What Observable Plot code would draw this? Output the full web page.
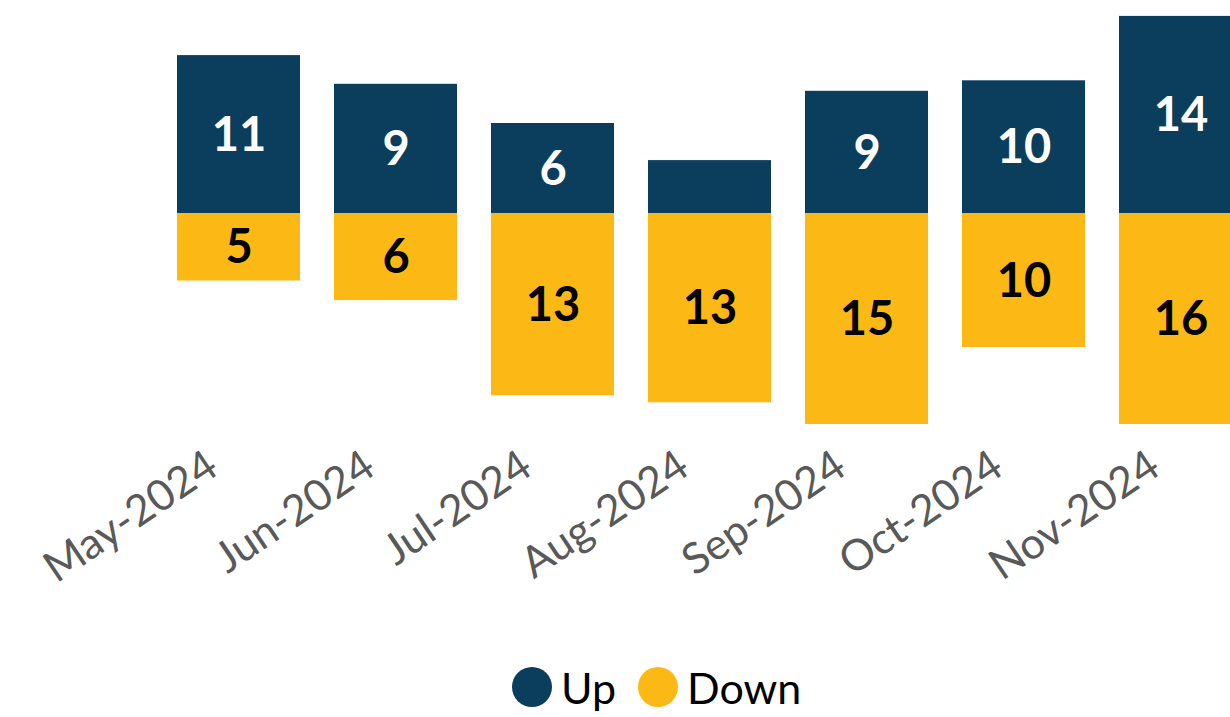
<!DOCTYPE html>
<html><head><meta charset="utf-8">
<script src="https://cdn.jsdelivr.net/npm/d3@7"></script>
<script src="https://cdn.jsdelivr.net/npm/@observablehq/plot@0.6"></script>
<style>
body{margin:0;background:#fff;overflow:hidden;font-family:Lato, sans-serif;}
#legend{height:60px;display:flex;align-items:center;padding-left:512px;font-size:43px;color:#000;}
.sw{width:40px;height:40px;border-radius:50%;display:inline-block;margin-right:9px;}
.item{display:flex;align-items:center;margin-right:22px;}
</style></head><body><div id="chart"></div><div id="legend"></div>
<script>
const months = ["May-2024","Jun-2024","Jul-2024","Aug-2024","Sep-2024","Oct-2024","Nov-2024"];
const upValues = [11.3, 9.25, 6.45, 3.8, 8.75, 9.5, 14.1];
const downValues = [4.8, 6.2, 13.0, 13.5, 15.05, 9.55, 15.05];
const upLabels = ["11","9","6","","9","10","14"];
const downLabels = ["5","6","13","13","15","10","16"];
const seriesNames = ["Up","Down"];
const seriesColors = ["#0b3d5c","#fcb915"];

const upRows = months.map((m,i)=>({month:m, series:"Up", value:upValues[i], label:upLabels[i]}));
const downRows = months.map((m,i)=>({month:m, series:"Down", value:-downValues[i], label:downLabels[i]}));
const rows = upRows.concat(downRows);

const k = 14, zero = 213.3;
const chart = Plot.plot({
  width:1230, height:657, marginTop:0, marginLeft:0, marginRight:0, marginBottom:217,
  style:{fontFamily:"Lato", background:"#fff"},
  x:{type:"band", domain:months, range:[141,1277], padding:0.217, label:null},
  y:{domain:[-16,15], range:[zero+16*k, zero-15*k], axis:null},
  color:{domain:seriesNames, range:seriesColors},
  marks:[
    Plot.barY(rows, {x:"month", y1:0, y2:"value", fill:"series"}),
    Plot.text(upRows.filter(d=>d.label), {x:"month", y:d=>d.value/2, text:"label", fill:"#fff", fontSize:47, fontWeight:700, dy:1}),
    Plot.text(downRows.filter(d=>d.label), {x:"month", y:d=>d.value/2, text:"label", fill:"#000", fontSize:47, fontWeight:700, dy:1}),
    Plot.axisX({tickSize:0, tickRotate:-34, textAnchor:"end", lineAnchor:"middle", fontSize:43, fill:"#595959", tickPadding:21, dx:-26, label:null})
  ]
});
document.getElementById("chart").appendChild(chart);

const legend = document.getElementById("legend");
seriesNames.forEach((s,i)=>{
  const item = document.createElement("div"); item.className="item";
  const sw = document.createElement("span"); sw.className="sw"; sw.style.background=seriesColors[i];
  const t = document.createElement("span"); t.textContent=s;
  item.appendChild(sw); item.appendChild(t); legend.appendChild(item);
});
</script></body></html>
